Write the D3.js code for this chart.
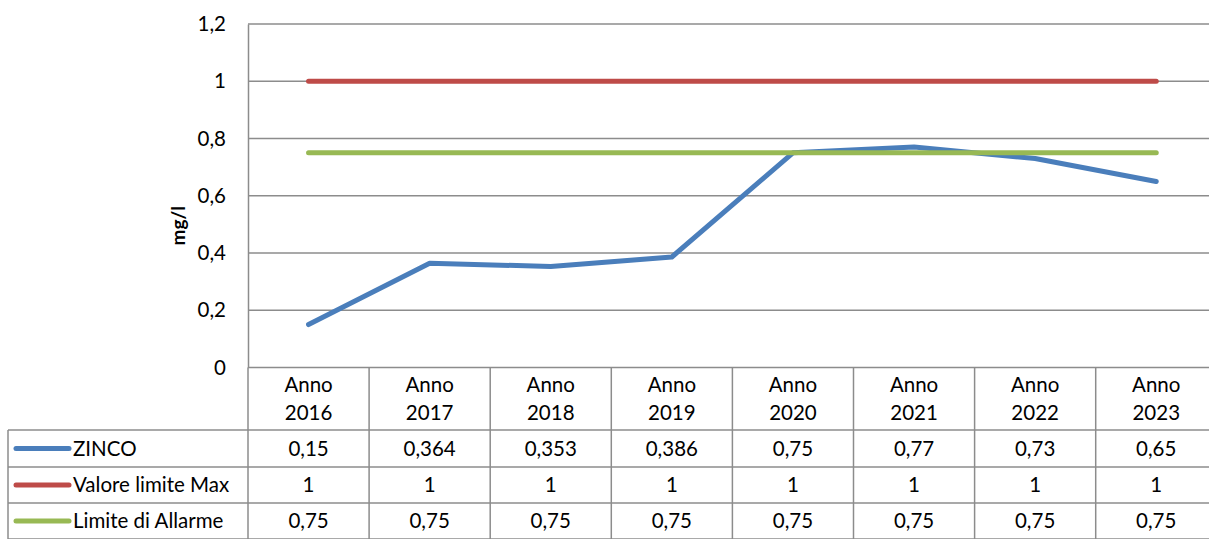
<!DOCTYPE html>
<html>
<head>
<meta charset="utf-8">
<script src="https://cdn.jsdelivr.net/npm/d3@7"></script>
<style>
  body { margin: 0; background: #fff; }
  text { font-family: Lato, "Open Sans", sans-serif; fill: #000; }
</style>
</head>
<body>
<svg id="chart" width="1209" height="539"></svg>
<script>
var width = 1209,
    height = 539;

// data
var anni = ["2016", "2017", "2018", "2019", "2020", "2021", "2022", "2023"];
var zinco = [0.15, 0.364, 0.353, 0.386, 0.75, 0.77, 0.73, 0.65];
var valoreMax = [1, 1, 1, 1, 1, 1, 1, 1];
var limiteAllarme = [0.75, 0.75, 0.75, 0.75, 0.75, 0.75, 0.75, 0.75];
var yTicks = [0, 0.2, 0.4, 0.6, 0.8, 1, 1.2];

var series = [
  { name: "ZINCO", values: zinco, color: "#4a7ebb" },
  { name: "Valore limite Max", values: valoreMax, color: "#be4b48" },
  { name: "Limite di Allarme", values: limiteAllarme, color: "#98b954" }
];

var plotLeft = 248, plotTop = 24, plotBottom = 367.5;
var colW = 121.1;
var rowLines = [430, 467, 503, 539];
var tableLeft = 8;
var grid = "#8c8c8c";
var fs = "20.5px";

var fmt = function(v) { return String(v).replace(".", ","); };

var svg = d3.select("#chart");

var x = d3.scaleBand()
    .domain(anni)
    .range([plotLeft, plotLeft + colW * anni.length]);

var y = d3.scaleLinear()
    .domain([0, 1.2])
    .range([plotBottom, plotTop]);

// gridlines
svg.append("g")
  .selectAll("line")
  .data(yTicks)
  .enter().append("line")
    .attr("x1", plotLeft)
    .attr("x2", x.range()[1])
    .attr("y1", function(d) { return y(d); })
    .attr("y2", function(d) { return y(d); })
    .attr("stroke", grid)
    .attr("stroke-width", 1.5);

// y axis
var yAxis = svg.append("g")
    .attr("transform", "translate(" + plotLeft + ",0)")
    .call(d3.axisLeft(y).tickValues(yTicks).tickSize(0).tickPadding(22).tickFormat(fmt));
yAxis.select(".domain").attr("stroke", grid).attr("stroke-width", 1.5);
yAxis.selectAll("text")
    .style("font-family", "Lato, 'Open Sans', sans-serif")
    .style("font-size", fs)
    .attr("fill", "#000");

svg.append("text")
    .attr("transform", "translate(185," + ((plotTop + plotBottom) / 2 + 30) + ") rotate(-90)")
    .attr("text-anchor", "middle")
    .style("font-size", "19px")
    .style("font-weight", "bold")
    .text("mg/l");

// series lines
var line = d3.line()
    .x(function(d, i) { return x(anni[i]) + x.bandwidth() / 2; })
    .y(function(d) { return y(d); });

svg.append("g")
  .selectAll("path")
  .data(series)
  .enter().append("path")
    .attr("d", function(d) { return line(d.values); })
    .attr("fill", "none")
    .attr("stroke", function(d) { return d.color; })
    .attr("stroke-width", 5)
    .attr("stroke-linecap", "round")
    .attr("stroke-linejoin", "round");

// data table
var table = svg.append("g");

// vertical column lines
table.selectAll(".vline")
  .data(d3.range(anni.length + 1))
  .enter().append("line")
    .attr("class", "vline")
    .attr("x1", function(i) { return plotLeft + i * colW; })
    .attr("x2", function(i) { return plotLeft + i * colW; })
    .attr("y1", plotBottom)
    .attr("y2", height)
    .attr("stroke", grid)
    .attr("stroke-width", 1.5);

// horizontal row lines
table.selectAll(".hline")
  .data(rowLines)
  .enter().append("line")
    .attr("class", "hline")
    .attr("x1", tableLeft)
    .attr("x2", x.range()[1])
    .attr("y1", function(d) { return d; })
    .attr("y2", function(d) { return d; })
    .attr("stroke", grid)
    .attr("stroke-width", 1.5);

table.append("line")
    .attr("x1", tableLeft).attr("x2", tableLeft)
    .attr("y1", rowLines[0]).attr("y2", height)
    .attr("stroke", grid).attr("stroke-width", 1.5);

// header labels
var head = table.selectAll(".head")
  .data(anni)
  .enter().append("text")
    .attr("class", "head")
    .attr("text-anchor", "middle")
    .style("font-size", fs);
head.append("tspan")
    .attr("x", function(d) { return x(d) + x.bandwidth() / 2; })
    .attr("y", 392)
    .text("Anno");
head.append("tspan")
    .attr("x", function(d) { return x(d) + x.bandwidth() / 2; })
    .attr("y", 420)
    .text(function(d) { return d; });

// rows
series.forEach(function(s, r) {
  var cy = (rowLines[r] + rowLines[r + 1]) / 2;
  table.append("line")
      .attr("x1", 16).attr("x2", 69)
      .attr("y1", cy).attr("y2", cy)
      .attr("stroke", s.color)
      .attr("stroke-width", 5)
      .attr("stroke-linecap", "round");
  table.append("text")
      .attr("x", 73)
      .attr("y", cy + 7)
      .style("font-size", fs)
      .text(s.name);
  table.selectAll(".cell" + r)
    .data(s.values)
    .enter().append("text")
      .attr("x", function(d, i) { return x(anni[i]) + x.bandwidth() / 2; })
      .attr("y", cy + 7)
      .attr("text-anchor", "middle")
      .style("font-size", fs)
      .text(fmt);
});
</script>
</body>
</html>
